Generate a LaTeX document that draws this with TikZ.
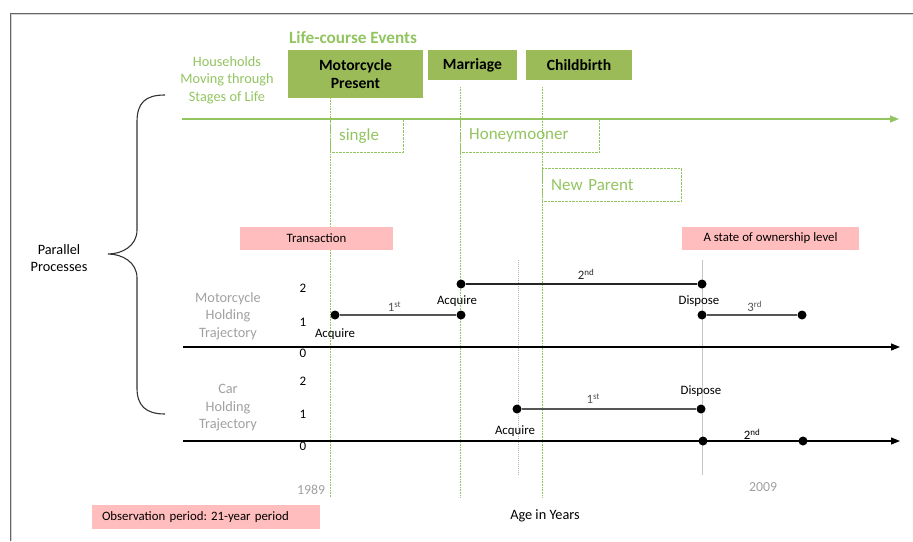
\documentclass[tikz,border=0pt]{standalone}
\usepackage{fontspec}
\setmainfont{Carlito}
\usepackage{tikz}
\usetikzlibrary{arrows.meta,positioning}
\definecolor{EventGreen}{RGB}{155,187,89}
\definecolor{StageGreen}{RGB}{146,196,96}
\definecolor{PinkBox}{RGB}{255,189,189}
\definecolor{LabelGray}{RGB}{160,160,160}
\definecolor{SegGray}{RGB}{85,85,85}
\newcommand{\fsz}[2]{\fontsize{#1}{#2}\selectfont}
\frenchspacing

\begin{document}
\begin{tikzpicture}[x=1pt, y=-1pt, >={Triangle[length=9pt,width=7pt]}, text=black,
	   every node/.style={font=\fsz{12.8}{15}, inner sep=1pt},
	   eventbox/.style 2 args = {rectangle, fill=EventGreen, minimum width=#1, minimum height=#2,
	                             align=center, font=\bfseries\fsz{15.6}{18}},
	   stagebox/.style = {rectangle, draw=StageGreen, densely dotted, text=StageGreen, anchor=north west,
	                      minimum height=33, inner xsep=9, align=left, font=\fsz{17}{20}},
	   pinkbox/.style = {rectangle, fill=PinkBox, minimum height=23, font=\fsz{12.8}{15}},
	   sidelabel/.style = {align=center, text=LabelGray, font=\fsz{14.3}{17.5}},
	   level/.style = {font=\fsz{13}{15}},
	   dot/.style = {circle, fill=black, inner sep=0, minimum size=9},
	   seg/.style = {SegGray, line width=2.4pt},
	   axis/.style = {->, black, line width=1.2pt},
	   eventline/.style = {StageGreen, densely dotted, line width=0.6pt}]
	\useasboundingbox (0,0) rectangle (913,541);
	%% Frame
	\draw[gray!35, line width=2.5pt] (11,541) -- (11,14) -- (913,14);
	\draw[gray!80!black, line width=1pt] (10,541) -- (10,13) -- (913,13);

	%% Life-course events
	\node [text=StageGreen, font=\bfseries\fsz{17.2}{20}] (title) at (353,38) {Life-course Events};
	\node [eventbox={135}{48}] (moto) at (355.5,74) {Motorcycle\\Present};
	\node [eventbox={89}{30}] (marriage) at (472.5,65) {Marriage};
	\node [eventbox={106}{30}] (birth) at (579,65) {Childbirth};
	\node [align=center, text=StageGreen, font=\fsz{14.3}{17.5}] (households) at (227,80)
	      {Households\\Moving through\\Stages of Life};

	%% Stages of life
	\coordinate (life0) at (182,119);
	\coordinate (life1) at (899,119);
	\draw[->, StageGreen, line width=1.2pt] (life0) -- (life1);
	\node [stagebox, minimum width=73, text width=55] (single) at (330,119) {single};
	\node [stagebox, minimum width=139, text width=121] (honey) at (460,119) {Honeymooner};
	\node [stagebox, minimum width=139, text width=121] (parent) at (542,168) {New Parent};

	%% Event lines
	\draw[eventline] (330,98) -- (330,497);
	\draw[eventline] (460,87) -- (460,497);
	\draw[eventline] (542,87) -- (542,497);
	\draw[gray!60, densely dotted, line width=1pt] (518,260) -- (518,475);
	\draw[gray!45, line width=1pt] (702,260) -- (702,475);

	%% Legend boxes
	\node [pinkbox, minimum width=153] (trans) at (316.5,238.5) {Transaction};
	\node [pinkbox, minimum width=177] (state) at (770.5,238.5) {A state of ownership level};
	\node [pinkbox, minimum height=24, minimum width=228, text width=208, inner xsep=10, align=left]
	      (obs) at (206,517) {Observation period: 21-year period};

	%% Parallel processes
	\draw[black!80, line width=1.1pt] (165,95) .. controls (145,95) and (137,103) .. (137,122)
	      -- (137,230) .. controls (137,246) and (122,254) .. (108,254)
	      .. controls (122,254) and (137,262) .. (137,278)
	      -- (137,388) .. controls (137,405) and (145,414) .. (165,414);
	\node [align=center, font=\fsz{14.3}{17}] (parallel) at (59,258) {Parallel\\Processes};

	%% Motorcycle holding trajectory
	\node [sidelabel] (motolbl) at (228,316) {Motorcycle\\Holding\\Trajectory};
	\node [level] (m2) at (303,288) {2};
	\node [level] (m1) at (303,322) {1};
	\node [level] (m0) at (303,353) {0};
	\coordinate (maxis0) at (183,347);
	\coordinate (maxis1) at (900,347);
	\draw[axis] (maxis0) -- (maxis1);
	\node [dot] (m1a) at (335,315) {};
	\node [dot] (m1b) at (461,315) {};
	\node [dot] (m2a) at (461,284) {};
	\node [dot] (m2b) at (702,284) {};
	\node [dot] (m3a) at (702,315) {};
	\node [dot] (m3b) at (802,315) {};
	\draw[seg] (m1a) -- node[above=1pt, pos=0.47] {1\textsuperscript{st}} (m1b);
	\draw[seg, black!85] (m2a) -- node[above=2pt, pos=0.52] {2\textsuperscript{nd}} (m2b);
	\draw[seg] (m3a) -- node[above=1pt, pos=0.53] {3\textsuperscript{rd}} (m3b);
	\node [below=8pt of m1a] (macq1) {Acquire};
	\node [below=6pt of m2a, xshift=-4pt] (macq2) {Acquire};
	\node [below=6pt of m2b, xshift=-3pt] (mdis) {Dispose};

	%% Car holding trajectory
	\node [sidelabel] (carlbl) at (228,408) {Car\\Holding\\Trajectory};
	\node [level] (c2) at (303,381) {2};
	\node [level] (c1) at (303,414) {1};
	\node [level] (c0) at (303,446) {0};
	\coordinate (caxis0) at (183,441);
	\coordinate (caxis1) at (900,441);
	\draw[axis] (caxis0) -- (caxis1);
	\node [dot] (c1a) at (517,409) {};
	\node [dot] (c1b) at (701,409) {};
	\node [dot] (c2a) at (703,441) {};
	\node [dot] (c2b) at (803,441) {};
	\draw[seg] (c1a) -- node[above=3pt, pos=0.41] {1\textsuperscript{st}} (c1b);
	\draw[black, line width=2.6pt] (c2a) -- node[above=-1pt, pos=0.49] {2\textsuperscript{nd}} (c2b);
	\node [below=11pt of c1a, xshift=-2pt] (cacq) {Acquire};
	\node [above=7pt of c1b] (cdis) {Dispose};

	%% Time
	\node [text=LabelGray, font=\fsz{13.8}{16}] (y1989) at (311,490) {1989};
	\node [text=LabelGray, font=\fsz{13.8}{16}] (y2009) at (763,487) {2009};
	\node [font=\fsz{14.3}{17}] (age) at (545,516) {Age in Years};
\end{tikzpicture}
\end{document}
